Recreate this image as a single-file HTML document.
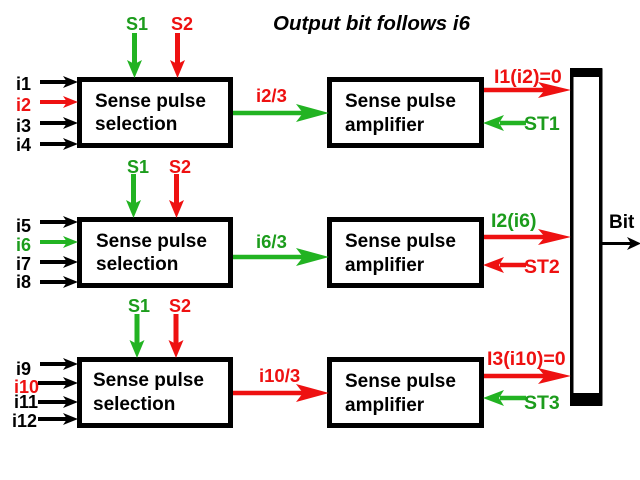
<!DOCTYPE html>
<html><head><meta charset="utf-8"><style>
html,body{margin:0;padding:0;background:#fff;}
svg{display:block;}
text{font-family:"Liberation Sans",Arial,sans-serif;font-weight:bold;}
</style></head><body>
<svg width="640" height="480" viewBox="0 0 640 480" xmlns="http://www.w3.org/2000/svg">
<rect width="640" height="480" fill="#fff"/>

<!-- Title -->
<text x="273" y="30" font-size="20.5" font-style="italic" fill="#000">Output bit follows i6</text>

<!-- ===== Boxes ===== -->
<g fill="#fff" stroke="#000" stroke-width="5">
<rect x="79.5" y="79.5" width="151" height="66"/>
<rect x="329.5" y="79.5" width="152" height="66"/>
<rect x="79.5" y="219.5" width="151" height="66"/>
<rect x="329.5" y="219.5" width="152" height="66"/>
<rect x="79.5" y="359.5" width="151" height="66"/>
<rect x="329.5" y="359.5" width="152" height="66"/>
</g>

<!-- Bus bar -->
<rect x="571.75" y="70" width="29" height="334" fill="#fff" stroke="#000" stroke-width="3.5"/>
<rect x="570" y="68" width="32" height="9" fill="#000"/>
<rect x="570" y="393" width="32" height="13" fill="#000"/>

<!-- Box texts -->
<g font-size="19" fill="#000">
<text x="95" y="107">Sense pulse</text><text x="95" y="130">selection</text>
<text x="96" y="247">Sense pulse</text><text x="96" y="270">selection</text>
<text x="93" y="386">Sense pulse</text><text x="93" y="410">selection</text>
<text x="345" y="107">Sense pulse</text><text x="345" y="131">amplifier</text>
<text x="345" y="247">Sense pulse</text><text x="345" y="271">amplifier</text>
<text x="345" y="387">Sense pulse</text><text x="345" y="411">amplifier</text>
</g>

<!-- ===== Input arrows ===== -->
<g stroke-width="4">
<line x1="40" y1="82" x2="68" y2="82" stroke="#000"/>
<line x1="40" y1="102" x2="68" y2="102" stroke="#ee1111"/>
<line x1="40" y1="123" x2="68" y2="123" stroke="#000"/>
<line x1="40" y1="144" x2="68" y2="144" stroke="#000"/>
<line x1="40" y1="222" x2="68" y2="222" stroke="#000"/>
<line x1="40" y1="242" x2="68" y2="242" stroke="#22b322"/>
<line x1="40" y1="262" x2="68" y2="262" stroke="#000"/>
<line x1="40" y1="282" x2="68" y2="282" stroke="#000"/>
<line x1="40" y1="364" x2="68" y2="364" stroke="#000"/>
<line x1="38" y1="383" x2="68" y2="383" stroke="#000"/>
<line x1="38" y1="402" x2="68" y2="402" stroke="#000"/>
<line x1="38" y1="419" x2="68" y2="419" stroke="#000"/>
</g>
<g>
<polygon points="78,82 63,76 67,82 63,88" fill="#000"/>
<polygon points="78,102 63,96 67,102 63,108" fill="#ee1111"/>
<polygon points="78,123 63,117 67,123 63,129" fill="#000"/>
<polygon points="78,144 63,138 67,144 63,150" fill="#000"/>
<polygon points="78,222 63,216 67,222 63,228" fill="#000"/>
<polygon points="78,242 63,236 67,242 63,248" fill="#22b322"/>
<polygon points="78,262 63,256 67,262 63,268" fill="#000"/>
<polygon points="78,282 63,276 67,282 63,288" fill="#000"/>
<polygon points="78,364 63,358 67,364 63,370" fill="#000"/>
<polygon points="78,383 63,377 67,383 63,389" fill="#000"/>
<polygon points="78,402 63,396 67,402 63,408" fill="#000"/>
<polygon points="78,419 63,413 67,419 63,425" fill="#000"/>
</g>

<!-- Input labels -->
<g font-size="18">
<text x="16" y="90" fill="#000">i1</text>
<text x="16" y="111" fill="#ee1111">i2</text>
<text x="16" y="132" fill="#000">i3</text>
<text x="16" y="151" fill="#000">i4</text>
<text x="16" y="232" fill="#000">i5</text>
<text x="16" y="251" fill="#1c9c1c">i6</text>
<text x="16" y="270" fill="#000">i7</text>
<text x="16" y="288" fill="#000">i8</text>
<text x="16" y="375" fill="#000">i9</text>
<text x="14" y="393" fill="#ee1111">i10</text>
<text x="14" y="408" fill="#000">i11</text>
<text x="12" y="427" fill="#000">i12</text>
</g>

<!-- ===== S1 / S2 arrows ===== -->
<g stroke-width="5">
<line x1="134.5" y1="33" x2="134.5" y2="66" stroke="#22b322"/>
<line x1="177.5" y1="33" x2="177.5" y2="66" stroke="#ee1111"/>
<line x1="133.5" y1="174" x2="133.5" y2="206" stroke="#22b322"/>
<line x1="176.5" y1="174" x2="176.5" y2="206" stroke="#ee1111"/>
<line x1="137" y1="314" x2="137" y2="346" stroke="#22b322"/>
<line x1="176" y1="314" x2="176" y2="346" stroke="#ee1111"/>
</g>
<polygon points="134.5,78 127,60 134.5,64 142,60" fill="#22b322"/>
<polygon points="177.5,78 170,60 177.5,64 185,60" fill="#ee1111"/>
<polygon points="133.5,218 126,200 133.5,204 141,200" fill="#22b322"/>
<polygon points="176.5,218 169,200 176.5,204 184,200" fill="#ee1111"/>
<polygon points="137,358 129.5,340 137,344 144.5,340" fill="#22b322"/>
<polygon points="176,358 168.5,340 176,344 183.5,340" fill="#ee1111"/>

<g font-size="18">
<text x="126" y="30" fill="#1c9c1c">S1</text>
<text x="171" y="30" fill="#ee1111">S2</text>
<text x="127" y="173" fill="#1c9c1c">S1</text>
<text x="169" y="173" fill="#ee1111">S2</text>
<text x="128" y="312" fill="#1c9c1c">S1</text>
<text x="169" y="312" fill="#ee1111">S2</text>
</g>

<!-- ===== Middle arrows ===== -->
<line x1="233" y1="113" x2="304" y2="113" stroke="#22b322" stroke-width="4.5"/>
<polygon points="329,113 296,104 303,113 296,122" fill="#22b322"/>
<line x1="233" y1="257" x2="304" y2="257" stroke="#22b322" stroke-width="4.5"/>
<polygon points="329,257 296,248 303,257 296,266" fill="#22b322"/>
<line x1="233" y1="393" x2="304" y2="393" stroke="#ee1111" stroke-width="4.5"/>
<polygon points="329,393 296,384 303,393 296,402" fill="#ee1111"/>

<g font-size="18.5">
<text x="256" y="102" fill="#ee1111">i2/3</text>
<text x="256" y="248" fill="#1c9c1c">i6/3</text>
<text x="259" y="382" fill="#ee1111">i10/3</text>
</g>

<!-- ===== Outputs ===== -->
<line x1="484" y1="90" x2="546" y2="90" stroke="#ee1111" stroke-width="4.5"/>
<polygon points="571,90 538,82 545,90 538,98" fill="#ee1111"/>
<line x1="484" y1="237" x2="546" y2="237" stroke="#ee1111" stroke-width="4.5"/>
<polygon points="571,237 538,229 545,237 538,245" fill="#ee1111"/>
<line x1="484" y1="376" x2="546" y2="376" stroke="#ee1111" stroke-width="4.5"/>
<polygon points="571,376 538,368 545,376 538,384" fill="#ee1111"/>

<line x1="500" y1="123" x2="526" y2="123" stroke="#22b322" stroke-width="4.5"/>
<polygon points="483,123 504,115 499,123 504,131" fill="#22b322"/>
<line x1="500" y1="265" x2="526" y2="265" stroke="#ee1111" stroke-width="4.5"/>
<polygon points="483,265 504,257 499,265 504,273" fill="#ee1111"/>
<line x1="500" y1="398" x2="526" y2="398" stroke="#22b322" stroke-width="4.5"/>
<polygon points="483,398 504,390 499,398 504,406" fill="#22b322"/>

<g font-size="19.5">
<text x="494" y="83" fill="#ee1111">I1(i2)=0</text>
<text x="491" y="227" fill="#1c9c1c">I2(i6)</text>
<text x="487" y="365" fill="#ee1111">I3(i10)=0</text>
<text x="524" y="130" fill="#1c9c1c">ST1</text>
<text x="524" y="273" fill="#ee1111">ST2</text>
<text x="524" y="409" fill="#1c9c1c">ST3</text>
</g>

<!-- Bit -->
<line x1="602" y1="243.5" x2="632" y2="243.5" stroke="#000" stroke-width="3"/>
<polygon points="641,243.5 627,237 631,243.5 627,250" fill="#000"/>
<text x="609" y="228" font-size="19" fill="#000">Bit</text>
</svg>
</body></html>
